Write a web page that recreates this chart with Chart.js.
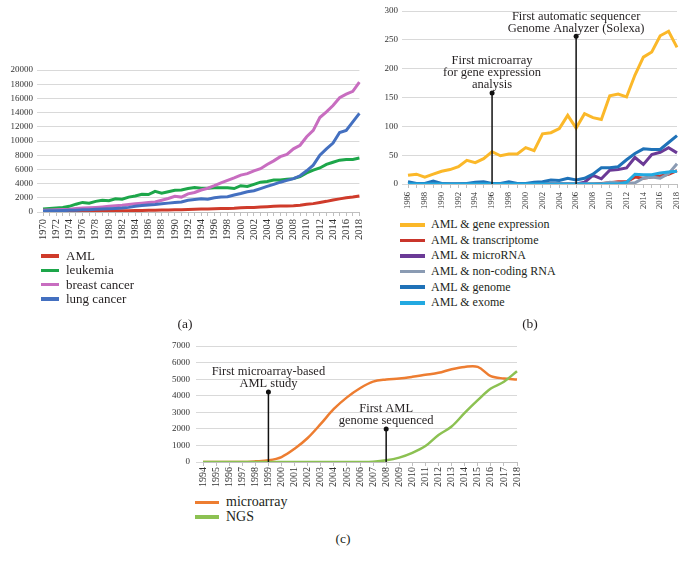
<!DOCTYPE html>
<html>
<head>
<meta charset="utf-8">
<script src="https://cdn.jsdelivr.net/npm/chart.js@4.4.1/dist/chart.umd.min.js"></script>
<style>
  body { margin:0; width:692px; height:565px; background:#fff; position:relative; overflow:hidden; font-family:'Liberation Serif', serif; color:#231f20; }
  canvas { position:absolute; }
  .legenda { position:absolute; }
  .item { display:flex; align-items:center; white-space:nowrap; }
  .item span { display:inline-block; height:3.5px; }
  .rotulo { position:absolute; font-size:13.5px; transform:translate(-50%, -50%); }
  #leg_a { left:41px; top:249px; font-size:13px; }
  #leg_a .item { height:14.3px; }
  #leg_a span { width:18px; margin-right:7px; }
  #leg_b { left:400px; top:217px; font-size:12px; }
  #leg_b .item { height:15.6px; }
  #leg_b span { width:25px; margin-right:6px; }
  #leg_c { left:195px; top:495px; font-size:14px; }
  #leg_c .item { height:14.5px; }
  #leg_c span { width:24px; margin-right:7px; }
</style>
</head>
<body>
<canvas id="grafico_a" style="left:0;top:60px" width="375" height="190"></canvas>
<canvas id="grafico_b" style="left:362px;top:0" width="330" height="215"></canvas>
<canvas id="grafico_c" style="left:130px;top:330px" width="420" height="160"></canvas>
<div class="legenda" id="leg_a"></div>
<div class="legenda" id="leg_b"></div>
<div class="legenda" id="leg_c"></div>
<div class="rotulo" style="left:185px;top:324px">(a)</div>
<div class="rotulo" style="left:530px;top:324px">(b)</div>
<div class="rotulo" style="left:343px;top:539px">(c)</div>
<script>
// Anos (rótulos do eixo X)
const anos_a = Array.from({length: 49}, (_, i) => String(1970 + i))
const anos_b = Array.from({length: 33}, (_, i) => String(1986 + i))
const anos_c = Array.from({length: 25}, (_, i) => String(1994 + i))

// (a) publicações por doença
const dado_aml = [50,60,70,80,90,100,110,120,130,140, 150,160,170,180,200,220,240,250,270,290,
  310,330,360,390,420,440,460,480,500,520, 600,620,650,700,750,800,830,850,870,950,
  1080,1180,1350,1500,1700,1850,2000,2100,2250]
const dado_leucemia = [420,480,560,650,800,1100,1350,1250,1500,1650, 1600,1850,1800,2100,2250,2500,2450,2900,2650,2850,
  3050,3100,3300,3450,3350,3350,3400,3400,3400,3300, 3700,3600,3900,4200,4300,4500,4500,4600,4700,5000,
  5500,5900,6200,6700,7000,7300,7400,7400,7600]
const dado_mama = [230,270,320,360,400,480,560,600,650,720, 800,880,950,1050,1150,1250,1350,1400,1650,1900,
  2200,2100,2550,2750,3100,3350,3700,4100,4450,4800, 5200,5400,5800,6100,6700,7200,7800,8100,8900,9400,
  10600,11500,13300,14100,15000,16100,16600,17000,18300]
const dado_pulmao = [140,160,180,200,230,260,300,330,370,410, 450,500,550,650,800,900,1000,1050,1150,1250,
  1350,1400,1650,1750,1850,1800,2000,2100,2150,2400, 2600,2850,3000,3300,3600,3900,4200,4450,4700,5100,
  5800,6600,8000,8900,9700,11200,11500,12700,13900]

// (b) AML & ...
const dado_expressao = [15,17,12,17,22,25,30,41,37,44, 56,49,52,52,63,58,87,89,96,119, 97,122,115,112,153,156,151,189,220,229, 257,265,237]
const dado_transcriptoma = [0,0,0,0,0,0,0,0,0,0, 0,0,0,0,0,0,0,0,0,0, 0,0,0,1,2,4,4,12,10,12, 14,17,23]
const dado_microrna = [0,0,0,0,0,0,0,0,0,0, 0,0,0,0,0,0,0,0,0,0, 0,3,15,9,24,25,28,46,34,51, 55,63,54]
const dado_ncrna = [0,0,0,0,0,0,0,0,0,0, 0,0,0,0,0,0,0,0,0,0, 0,0,0,0,3,2,1,2,10,12, 10,18,35]
const dado_genoma = [4,1,1,5,1,0,0,1,3,4, 1,1,4,1,1,3,4,7,6,10, 7,10,17,28,28,30,42,53,61,60, 60,72,84]
const dado_exoma = [0,0,0,0,0,0,0,0,0,0, 0,0,0,0,0,0,0,0,0,0, 0,0,0,0,0,0,3,17,16,16, 19,21,22]

// (c) microarray x NGS
const dado_microarray = [0,0,0,0,40,100,300,800,1450,2300,3200,3900,4450,4850,4980,5040,5140,5260,5380,5600,5740,5740,5180,5040,4980]
const dado_ngs = [0,0,0,0,0,0,0,0,0,0,0,0,0,20,100,265,550,960,1630,2140,2960,3730,4430,4840,5480]

// Anotações (ano, altura do ponto, texto)
const anot_b_anos = ['1996', '2006']
const anot_b_valores = [158, 256]
const anot_b_textos = [['First microarray', 'for gene expression', 'analysis'], ['First automatic sequencer', 'Genome Analyzer (Solexa)']]
const anot_c_anos = ['1999', '2008']
const anot_c_valores = [4220, 1990]
const anot_c_textos = [['First microarray-based', 'AML study'], ['First AML', 'genome sequenced']]

Chart.defaults.font.family = "'Liberation Serif', serif"
Chart.defaults.color = '#404040'

// Plugin que desenha as linhas verticais com texto
const anotacoes = {
  id: 'anotacoes',
  afterDatasetsDraw(chart, args, opts) {
    if (!opts.anos) return
    const ctx = chart.ctx
    const x = chart.scales.x, y = chart.scales.y
    opts.anos.forEach((ano, i) => {
      const px = x.getPixelForValue(x.getLabels().indexOf(ano))
      const py = y.getPixelForValue(opts.valores[i])
      ctx.save()
      ctx.strokeStyle = '#111'
      ctx.lineWidth = 1.5
      ctx.beginPath()
      ctx.moveTo(px, y.getPixelForValue(0))
      ctx.lineTo(px, py)
      ctx.stroke()
      ctx.fillStyle = '#111'
      ctx.beginPath()
      ctx.arc(px, py, 2.5, 0, Math.PI * 2)
      ctx.fill()
      ctx.font = "12.5px 'Liberation Serif'"
      ctx.fillStyle = '#231f20'
      ctx.textAlign = 'center'
      ctx.textBaseline = 'middle'
      const linhas = opts.textos[i]
      linhas.forEach((t, k) => {
        ctx.fillText(t, px, py - 8 - (linhas.length - 1 - k) * 12)
      })
      ctx.restore()
    })
  }
}

function criarGrafico(id, labels, series, cfg) {
  const ctx = document.getElementById(id).getContext('2d')
  return new Chart(ctx, {
    type: 'line',
    data: {
      labels: labels,
      datasets: series.map((s, i) => ({
        label: s.nome,
        data: s.dados,
        borderColor: s.cor,
        backgroundColor: s.cor,
        borderWidth: cfg.espessura,
        pointRadius: 0,
        tension: cfg.suave ? 0.35 : 0,
        order: series.length - i // o último fica por cima
      }))
    },
    options: {
      responsive: false,
      animation: false,
      layout: { padding: cfg.padding },
      scales: {
        x: {
          grid: { drawOnChartArea: false, drawTicks: true, tickLength: 4, color: '#BFBFBF' },
          border: { color: '#BFBFBF' },
          ticks: {
            autoSkip: false, minRotation: 90, maxRotation: 90, padding: cfg.padX,
            font: { size: cfg.fonteX }, color: '#333',
            callback: function (v, i) { return i % cfg.passoX === 0 ? this.getLabelForValue(v) : '' }
          },
          afterFit: (s) => { s.height = cfg.alturaX }
        },
        y: {
          min: 0, max: cfg.maxY,
          grid: { color: '#D9D9D9', tickLength: cfg.tickY },
          border: { display: false },
          ticks: {
            stepSize: cfg.passoY, padding: cfg.padY, font: { size: 9 }, color: '#333',
            callback: (v) => String(v) // sem separador de milhar
          },
          afterFit: (s) => { s.width = cfg.larguraY }
        }
      },
      plugins: {
        legend: { display: false },
        tooltip: { enabled: false },
        anotacoes: cfg.anot || {}
      }
    },
    plugins: [anotacoes]
  })
}

// Legenda em HTML montada a partir dos datasets
function montarLegenda(grafico, idDiv) {
  const div = document.getElementById(idDiv)
  grafico.data.datasets.forEach(ds => {
    const item = document.createElement('div')
    item.className = 'item'
    const linha = document.createElement('span')
    linha.style.background = ds.borderColor
    item.appendChild(linha)
    item.appendChild(document.createTextNode(ds.label))
    div.appendChild(item)
  })
}

const gfc_a = criarGrafico('grafico_a', anos_a, [
  { nome: 'AML', dados: dado_aml, cor: '#CF3B2B' },
  { nome: 'leukemia', dados: dado_leucemia, cor: '#1DA64A' },
  { nome: 'breast cancer', dados: dado_mama, cor: '#C86DC0' },
  { nome: 'lung cancer', dados: dado_pulmao, cor: '#4470C0' }
], { padding: { top: 10, right: 15 }, larguraY: 43, alturaX: 38, tickY: 6, padY: 4, padX: 3,
     maxY: 20000, passoY: 2000, passoX: 2, fonteX: 10.5, espessura: 3 })
montarLegenda(gfc_a, 'leg_a')

const gfc_b = criarGrafico('grafico_b', anos_b, [
  { nome: 'AML & gene expression', dados: dado_expressao, cor: '#FBB829' },
  { nome: 'AML & transcriptome', dados: dado_transcriptoma, cor: '#C9352B' },
  { nome: 'AML & microRNA', dados: dado_microrna, cor: '#6B3A96' },
  { nome: 'AML & non-coding RNA', dados: dado_ncrna, cor: '#8A9BB3' },
  { nome: 'AML & genome', dados: dado_genoma, cor: '#1F72B8' },
  { nome: 'AML & exome', dados: dado_exoma, cor: '#22A9E1' }
], { padding: { top: 11, right: 15 }, larguraY: 46, alturaX: 31, tickY: 6, padY: 4, padX: 4,
     maxY: 300, passoY: 50, passoX: 2, fonteX: 8.5, espessura: 3,
     anot: { anos: anot_b_anos, valores: anot_b_valores, textos: anot_b_textos } })
montarLegenda(gfc_b, 'leg_b')

const gfc_c = criarGrafico('grafico_c', anos_c, [
  { nome: 'microarray', dados: dado_microarray, cor: '#ED7D31' },
  { nome: 'NGS', dados: dado_ngs, cor: '#8CC152' }
], { padding: { top: 16, right: 33 }, larguraY: 73, alturaX: 28, tickY: 7, padY: 6, padX: 1,
     maxY: 7000, passoY: 1000, passoX: 1, fonteX: 10, espessura: 2.5, suave: true,
     anot: { anos: anot_c_anos, valores: anot_c_valores, textos: anot_c_textos } })
montarLegenda(gfc_c, 'leg_c')
</script>
</body>
</html>
